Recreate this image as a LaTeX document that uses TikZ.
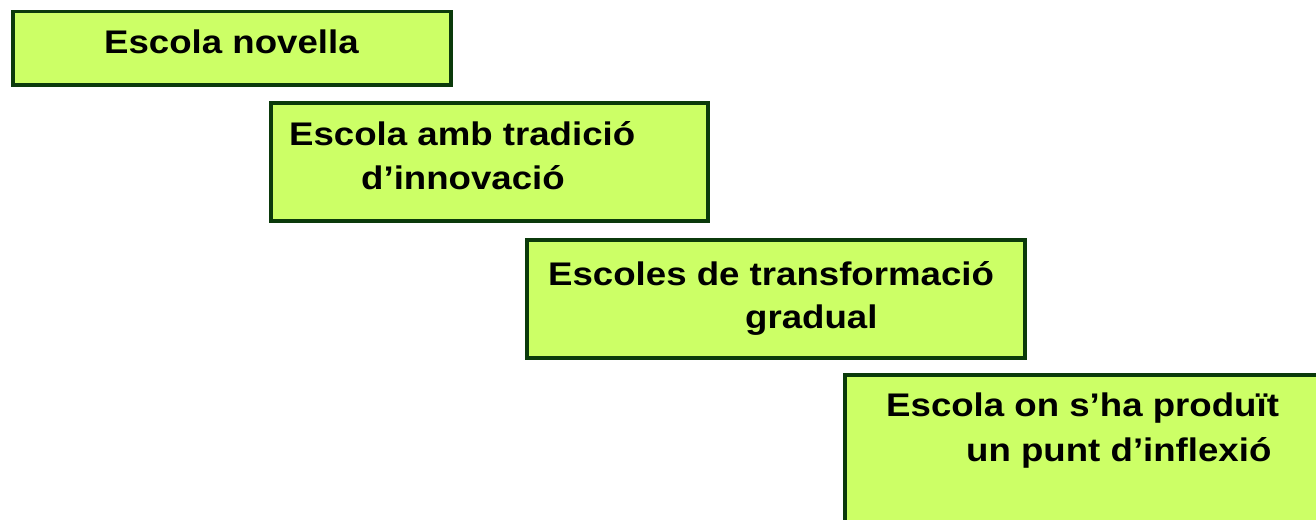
\documentclass[tikz,border=0pt]{standalone}
\usepackage{fontspec}
\setmainfont{Liberation Sans}
\definecolor{boxfill}{HTML}{CCFF66}
\definecolor{boxline}{HTML}{0B3A0B}
\tikzset{
  stagebox/.style={draw=boxline, fill=boxfill, line width=3.5pt, rectangle, inner sep=0pt, anchor=north west},
  lbl/.style={anchor=base west, inner sep=0pt, font=\fontsize{32.7}{40}\selectfont\bfseries}
}
\newcommand{\wx}[1]{\scalebox{1.12}[1]{#1}}
\begin{document}
\begin{tikzpicture}[x=1pt,y=-1pt]
\useasboundingbox (0,0) rectangle (1316,519);
\clip (0,0) rectangle (1316,519);
\node[stagebox, minimum width=438pt, minimum height=73pt] (b1) at (11,10) {};
\node[stagebox, minimum width=437pt, minimum height=118pt] (b2) at (269,101) {};
\node[stagebox, minimum width=498pt, minimum height=118pt] (b3) at (525,238) {};
\node[stagebox, minimum width=490pt, minimum height=160pt] (b4) at (843,373) {};
\node[lbl] (t1) at (104,53) {\wx{Escola novella}};
\node[lbl] (t2a) at (289,145) {\wx{Escola amb tradició}};
\node[lbl] (t2b) at (361,189) {\wx{d’innovació}};
\node[lbl] (t3a) at (548,285) {\wx{Escoles de transformació}};
\node[lbl] (t3b) at (745,328) {\wx{gradual}};
\node[lbl] (t4a) at (886,416) {\wx{Escola on s’ha produït}};
\node[lbl] (t4b) at (966,461) {\wx{un punt d’inflexió}};
\end{tikzpicture}
\end{document}
